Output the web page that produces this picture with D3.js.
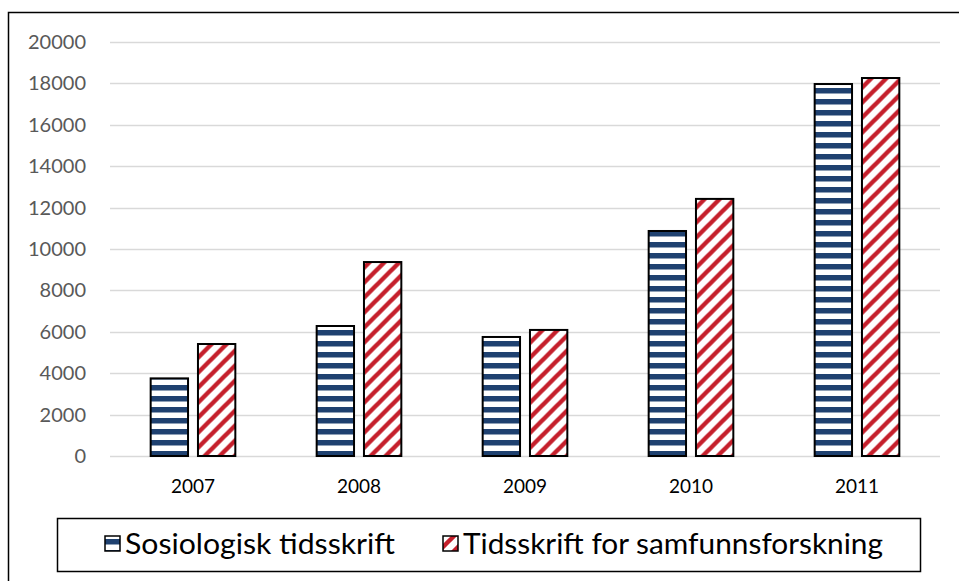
<!DOCTYPE html>
<html>
<head>
<meta charset="utf-8">
<script src="https://cdn.jsdelivr.net/npm/d3@7"></script>
<style>
  body { margin: 0; background: #fff; }
  svg { display: block; }
</style>
</head>
<body>
<div id="chart"></div>
<script>
var years = ["2007", "2008", "2009", "2010", "2011"];
var seriesNames = ["Sosiologisk tidsskrift", "Tidsskrift for samfunnsforskning"];
var sosiologisk = [3750, 6280, 5750, 10870, 17970];
var samfunn = [5410, 9370, 6090, 12420, 18260];
var yTicks = [0, 2000, 4000, 6000, 8000, 10000, 12000, 14000, 16000, 18000, 20000];

var width = 959, height = 581;
var margin = { left: 110, right: 19, top: 42, bottom: 125 };
var font = "Lato, 'Open Sans', sans-serif";

var svg = d3.select("#chart").append("svg")
  .attr("width", width)
  .attr("height", height);

var defs = svg.append("defs");

// horizontal stripes (blue)
var p1 = defs.append("pattern")
  .attr("id", "pat-blue")
  .attr("patternUnits", "userSpaceOnUse")
  .attr("width", 11).attr("height", 11);
p1.append("rect").attr("width", 11).attr("height", 11).attr("fill", "#fff");
p1.append("rect").attr("y", 0).attr("width", 11).attr("height", 5.5).attr("fill", "#1f4170");

// diagonal stripes (red)
var p2 = defs.append("pattern")
  .attr("id", "pat-red")
  .attr("patternUnits", "userSpaceOnUse")
  .attr("width", 15).attr("height", 15);
p2.append("rect").attr("width", 15).attr("height", 15).attr("fill", "#fff");
p2.append("path")
  .attr("d", "M-4,4 L4,-4 M-4,19 L19,-4 M11,19 L19,11")
  .attr("stroke", "#c5202c")
  .attr("stroke-width", 4.4);

// outer frame
svg.append("rect")
  .attr("x", 8.5).attr("y", 12.5)
  .attr("width", width).attr("height", height)
  .attr("fill", "none")
  .attr("stroke", "#000")
  .attr("stroke-width", 1.5);

var x0 = d3.scaleBand()
  .domain(years)
  .range([margin.left, width - margin.right])
  .paddingInner(0.49)
  .paddingOuter(0.245);

var x1 = d3.scaleBand()
  .domain(seriesNames)
  .range([0, x0.bandwidth()])
  .paddingInner(0.21);

var y = d3.scaleLinear()
  .domain([0, 20000])
  .range([height - margin.bottom, margin.top]);

// gridlines
svg.append("g")
  .selectAll("line")
  .data(yTicks)
  .enter()
  .append("line")
  .attr("x1", margin.left)
  .attr("x2", width - margin.right)
  .attr("y1", function (d) { return Math.round(y(d)) + 0.5; })
  .attr("y2", function (d) { return Math.round(y(d)) + 0.5; })
  .attr("stroke", "#d9d9d9")
  .attr("stroke-width", 1.5);

// y axis labels
var yAxis = d3.axisLeft(y).tickValues(yTicks).tickFormat(d3.format("d")).tickSize(0).tickPadding(24);
var gy = svg.append("g")
  .attr("transform", "translate(" + margin.left + ",0)")
  .call(yAxis);
gy.select(".domain").remove();
gy.selectAll("text")
  .attr("fill", "#595959")
  .style("font-family", font)
  .style("font-size", "20px");

// x axis labels
var xAxis = d3.axisBottom(x0).tickSize(0).tickPadding(24);
var gx = svg.append("g")
  .attr("transform", "translate(0," + y(0) + ")")
  .call(xAxis);
gx.select(".domain").remove();
gx.selectAll("text")
  .attr("fill", "#000")
  .style("font-family", font)
  .style("font-size", "19px");

// bars
var rows = years.map(function (yr, i) {
  return { year: yr, values: [sosiologisk[i], samfunn[i]] };
});
var fills = ["url(#pat-blue)", "url(#pat-red)"];

var groups = svg.append("g")
  .selectAll("g")
  .data(rows)
  .enter()
  .append("g")
  .attr("transform", function (d) { return "translate(" + x0(d.year) + ",0)"; });

groups.selectAll("rect")
  .data(function (d) {
    return d.values.map(function (v, j) { return { key: seriesNames[j], value: v, j: j }; });
  })
  .enter()
  .append("rect")
  .attr("x", function (d) { return x1(d.key); })
  .attr("y", function (d) { return y(d.value); })
  .attr("width", x1.bandwidth())
  .attr("height", function (d) { return y(0) - y(d.value); })
  .attr("fill", function (d) { return fills[d.j]; })
  .attr("stroke", "#000")
  .attr("stroke-width", 2);

// legend
var legend = svg.append("g");
legend.append("rect")
  .attr("x", 57.5).attr("y", 518.5)
  .attr("width", 863).attr("height", 53)
  .attr("fill", "#fff")
  .attr("stroke", "#000")
  .attr("stroke-width", 1.5);

var legendX = [105, 443];
var legendW = [270, 420];
seriesNames.forEach(function (name, i) {
  legend.append("rect")
    .attr("x", legendX[i]).attr("y", 536)
    .attr("width", 15).attr("height", 15)
    .attr("fill", fills[i])
    .attr("stroke", "#000")
    .attr("stroke-width", 1.5);
  legend.append("text")
    .attr("x", legendX[i] + 20)
    .attr("y", 554)
    .style("font-family", font)
    .style("font-size", "28px")
    .attr("fill", "#000")
    .attr("textLength", legendW[i])
    .attr("lengthAdjust", "spacingAndGlyphs")
    .text(name);
});
</script>
</body>
</html>
